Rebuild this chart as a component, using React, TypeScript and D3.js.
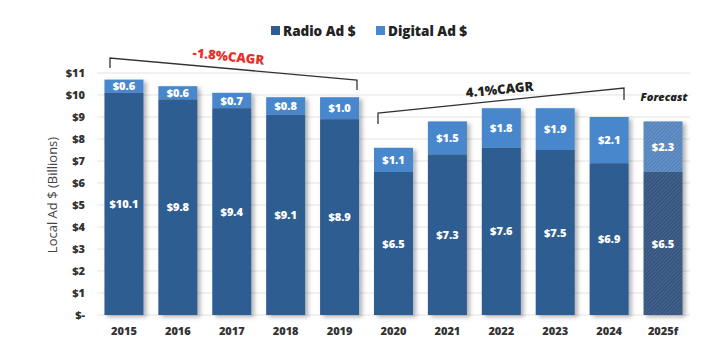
import React from "react";
import * as d3 from "d3";

const years = ["2015", "2016", "2017", "2018", "2019", "2020", "2021", "2022", "2023", "2024", "2025f"];
const radio = [10.1, 9.8, 9.4, 9.1, 8.9, 6.5, 7.3, 7.6, 7.5, 6.9, 6.5];
const digital = [0.6, 0.6, 0.7, 0.8, 1.0, 1.1, 1.5, 1.8, 1.9, 2.1, 2.3];
const yTicks = [0, 1, 2, 3, 4, 5, 6, 7, 8, 9, 10, 11];
const forecastYear = "2025f";

const RADIO = "#2f5d92";
const DIGITAL = "#4a87cd";
const FONT = "'Open Sans', 'Noto Sans', sans-serif";

export default function App() {
  const W = 726, H = 356;
  const x = d3.scaleBand<string>().domain(years).range([97, 690]).paddingInner(0.276).paddingOuter(0.138);
  const y = d3.scaleLinear().domain([0, 11]).range([315, 73]);
  const bw = x.bandwidth();
  const fmt = (v: number) => "$" + v.toFixed(1);

  return (
    <svg width={W} height={H} style={{ position: "absolute", left: 0, top: 0, background: "#fff" }}>
      <defs>
        <pattern id="hatchR" patternUnits="userSpaceOnUse" width="2.6" height="2.6" patternTransform="rotate(45)">
          <rect width="2.6" height="2.6" fill="#40628c" />
          <line x1="0" y1="0" x2="0" y2="2.6" stroke="#283f5e" strokeWidth="1" />
        </pattern>
        <pattern id="hatchD" patternUnits="userSpaceOnUse" width="2.6" height="2.6" patternTransform="rotate(45)">
          <rect width="2.6" height="2.6" fill="#6390c6" />
          <line x1="0" y1="0" x2="0" y2="2.6" stroke="#4070a8" strokeWidth="1" />
        </pattern>
        <filter id="shadow" x="-20%" y="-5%" width="150%" height="115%">
          <feDropShadow dx="3" dy="2" stdDeviation="2" floodColor="#000" floodOpacity="0.3" />
        </filter>
      </defs>

      {/* legend */}
      <g fontFamily={FONT} fontWeight={800} fontSize={13.5} fill="#222">
        <rect x={271} y={26} width={9} height={9} fill={RADIO} />
        <text x={283} y={35.5}>Radio Ad $</text>
        <rect x={376} y={26} width={9} height={9} fill={DIGITAL} />
        <text x={388} y={35.5}>Digital Ad $</text>
      </g>

      {/* gridlines */}
      {yTicks.map((t) => (
        <line key={t} x1={97} x2={690} y1={y(t)} y2={y(t)} stroke="#e3e3e3" strokeWidth={1} />
      ))}

      {/* y tick labels */}
      <g fontFamily={FONT} fontWeight={800} fontSize={11} fill="#333" textAnchor="end">
        {yTicks.map((t) => (
          <text key={t} x={85} y={y(t) + 4}>{t === 0 ? "$-" : "$" + t}</text>
        ))}
      </g>

      {/* y axis title */}
      <text
        transform={`translate(57,195) rotate(-90)`}
        textAnchor="middle"
        fontFamily={FONT}
        fontSize={13}
        fill="#444"
      >
        Local Ad $ (Billions)
      </text>

      {/* bars */}
      {years.map((yr, i) => {
        const x0 = x(yr)!;
        const f = yr === forecastYear;
        const r = radio[i];
        const d = digital[i];
        return (
          <g key={yr}>
            <g filter="url(#shadow)">
              <rect x={x0} y={y(r + d)} width={bw} height={y(r) - y(r + d)} fill={f ? "url(#hatchD)" : DIGITAL} />
              <rect x={x0} y={y(r)} width={bw} height={y(0) - y(r)} fill={f ? "url(#hatchR)" : RADIO} />
            </g>
            <text x={x0 + bw / 2} y={(y(r) + y(0)) / 2 + 4} textAnchor="middle" fontFamily={FONT} fontWeight={800} fontSize={11} fill="#fff">
              {fmt(r)}
            </text>
            <text x={x0 + bw / 2} y={(y(r) + y(r + d)) / 2 + 4} textAnchor="middle" fontFamily={FONT} fontWeight={800} fontSize={11} fill="#fff">
              {fmt(d)}
            </text>
            <text x={x0 + bw / 2} y={335} textAnchor="middle" fontFamily={FONT} fontWeight={800} fontSize={11} fill="#333">
              {yr}
            </text>
          </g>
        );
      })}

      {/* CAGR brackets */}
      <path d="M110,68 L110,58 L357,80 L357,90" fill="none" stroke="#333" strokeWidth={1.3} />
      <text transform="translate(228,61) rotate(6)" textAnchor="middle" fontFamily={FONT} fontWeight={800} fontSize={13} fill="#e8302b">
        -1.8%CAGR
      </text>
      <path d="M378,124 L378,113 L624,88 L624,100" fill="none" stroke="#333" strokeWidth={1.3} />
      <text transform="translate(500,94) rotate(-5.5)" textAnchor="middle" fontFamily={FONT} fontWeight={800} fontSize={13} fill="#222">
        4.1%CAGR
      </text>

      <text x={664} y={101} textAnchor="middle" fontFamily={FONT} fontWeight={800} fontStyle="italic" fontSize={11} fill="#222">
        Forecast
      </text>
    </svg>
  );
}
